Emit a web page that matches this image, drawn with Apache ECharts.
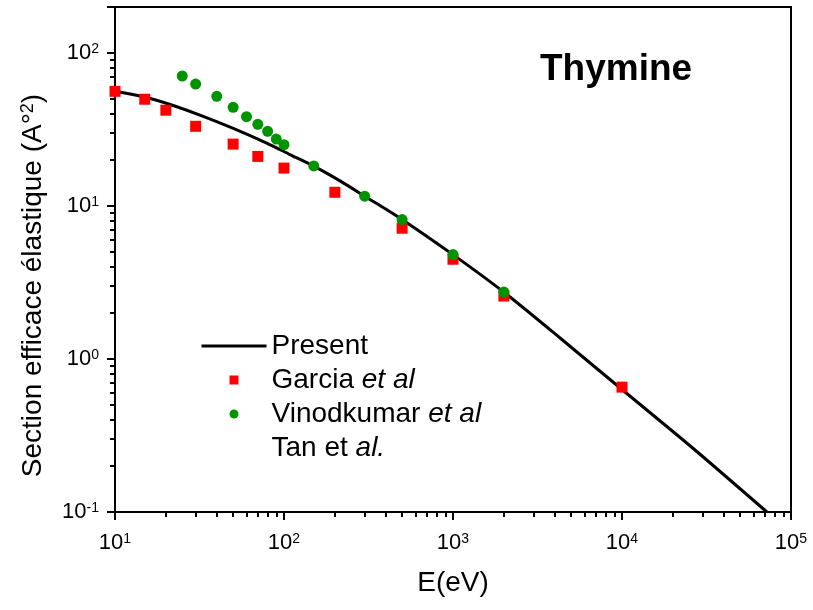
<!DOCTYPE html>
<html>
<head>
<meta charset="utf-8">
<script src="https://cdn.jsdelivr.net/npm/echarts@6/dist/echarts.min.js"></script>
<style>
html,body{margin:0;padding:0;background:#fff;}
#chart{width:813px;height:610px;}
</style>
</head>
<body>
<div id="chart"></div>
<script>
// ---- data ----
const presentE   = [10, 14.7, 21.2, 31.8, 50.1, 79, 108.5, 149, 214.5, 300, 499, 995, 1995, 4300, 10000, 26400, 72000];
const presentSig = [56.3, 51.8, 46.1, 39.3, 32.2, 25.8, 21.7, 18.3, 14.6, 11.6, 8.18, 4.83, 2.74, 1.372, 0.632, 0.260, 0.1];

const garciaE   = [10, 15, 20, 30, 50, 70, 100, 200, 500, 1000, 2000, 10000];
const garciaSig = [56.2, 49.9, 42.3, 33.2, 25.4, 21.1, 17.7, 12.3, 7.16, 4.49, 2.58, 0.655];

const vinodE   = [25, 30, 40, 50, 60, 70, 80, 90, 100, 150, 300, 500, 1000, 2000];
const vinodSig = [70.8, 62.7, 52.1, 44.2, 38.4, 34.2, 30.8, 27.4, 25.2, 18.3, 11.6, 8.16, 4.82, 2.74];

const seriesNames = ['Present', 'Garcia et al', 'Vinodkumar et al', 'Tan et al.'];
const legendLabels = {
  'Present': 'Present',
  'Garcia et al': 'Garcia {i|et al}',
  'Vinodkumar et al': 'Vinodkumar {i|et al}',
  'Tan et al.': 'Tan et {i|al.}'
};

const pairs = (xs, ys) => xs.map((x, i) => [x, ys[i]]);

const FONT = '"Liberation Sans", Arial, sans-serif';
const supFmt = v => {
  const l = Math.log10(v);
  const e = Math.round(l);
  if (Math.abs(l - e) > 1e-6) return '';
  return '10{sup|' + (e < 0 ? '-' + (-e) : e) + '}';
};
const labelRich = {
  sup: { fontSize: 14, fontFamily: FONT, color: '#000', verticalAlign: 'top', lineHeight: 13 }
};

const chart = echarts.init(document.getElementById('chart'), null, { renderer: 'canvas' });

chart.setOption({
  animation: false,
  backgroundColor: '#fff',
  title: {
    text: 'Thymine',
    left: 535, top: 46,
    textStyle: { fontSize: 37, fontWeight: 'bold', fontFamily: FONT, color: '#000' }
  },
  grid: {
    left: 115, right: 22, top: 7, bottom: 98,
    show: true, borderColor: '#000', borderWidth: 2, backgroundColor: 'transparent'
  },
  legend: {
    orient: 'vertical',
    left: 200, top: 331,
    padding: 0,
    itemWidth: 65, itemHeight: 9,
    itemGap: 4,
    symbolKeepAspect: true,
    data: [
      { name: 'Present', itemStyle: { opacity: 0 }, lineStyle: { width: 3, color: '#000' } },
      { name: 'Garcia et al', icon: 'path://M0,0L10,0L10,10L0,10Z' },
      { name: 'Vinodkumar et al', icon: 'circle' },
      { name: 'Tan et al.', itemStyle: { opacity: 0 } }
    ],
    formatter: name => legendLabels[name],
    textStyle: {
      fontSize: 28, fontFamily: FONT, color: '#000', lineHeight: 30,
      rich: { i: { fontSize: 28, fontFamily: FONT, fontStyle: 'italic', color: '#000' } }
    }
  },
  xAxis: {
    type: 'log', logBase: 10, min: 10, max: 100000,
    name: 'E(eV)', nameLocation: 'middle', nameGap: 57,
    nameTextStyle: { fontSize: 28, fontFamily: FONT, color: '#000' },
    axisLine: { lineStyle: { color: '#000', width: 2 } },
    axisTick: { length: 8, lineStyle: { color: '#000', width: 2 } },
    minorTick: { show: true, splitNumber: 9, length: 5, lineStyle: { color: '#000', width: 2 } },
    axisLabel: {
      margin: 20,
      fontSize: 22, fontFamily: FONT, color: '#000',
      formatter: supFmt, rich: labelRich
    },
    splitLine: { show: false }
  },
  yAxis: {
    type: 'log', logBase: 10, min: 0.1, max: 200,
    name: 'Section efficace élastique (A°{sup|2})', nameLocation: 'middle', nameGap: 68,
    nameTextStyle: {
      fontSize: 28, fontFamily: FONT, color: '#000', padding: [0, 52, 0, 0],
      rich: { sup: { fontSize: 18, fontFamily: FONT, color: '#000', verticalAlign: 'top', lineHeight: 16 } }
    },
    axisLine: { lineStyle: { color: '#000', width: 2 } },
    axisTick: { length: 8, lineStyle: { color: '#000', width: 2 } },
    minorTick: { show: true, splitNumber: 9, length: 5, lineStyle: { color: '#000', width: 2 } },
    axisLabel: {
      margin: 16,
      fontSize: 22, fontFamily: FONT, color: '#000',
      formatter: supFmt, rich: labelRich
    },
    splitLine: { show: false }
  },
  series: [
    {
      name: seriesNames[0], type: 'line', data: pairs(presentE, presentSig),
      smooth: 0.25, showSymbol: false, symbol: 'none',
      lineStyle: { color: '#000', width: 3 }, itemStyle: { color: '#000' }, clip: true, z: 2
    },
    {
      name: seriesNames[1], type: 'scatter', data: pairs(garciaE, garciaSig),
      symbol: 'rect', symbolSize: 11, itemStyle: { color: '#ff0000', opacity: 1 }, z: 3
    },
    {
      name: seriesNames[2], type: 'scatter', data: pairs(vinodE, vinodSig),
      symbol: 'circle', symbolSize: 11, itemStyle: { color: '#009400', opacity: 1 }, z: 4
    },
    {
      name: seriesNames[3], type: 'scatter', data: [],
      symbol: 'circle', symbolSize: 0, itemStyle: { color: 'transparent' }
    }
  ]
});
</script>
</body>
</html>
